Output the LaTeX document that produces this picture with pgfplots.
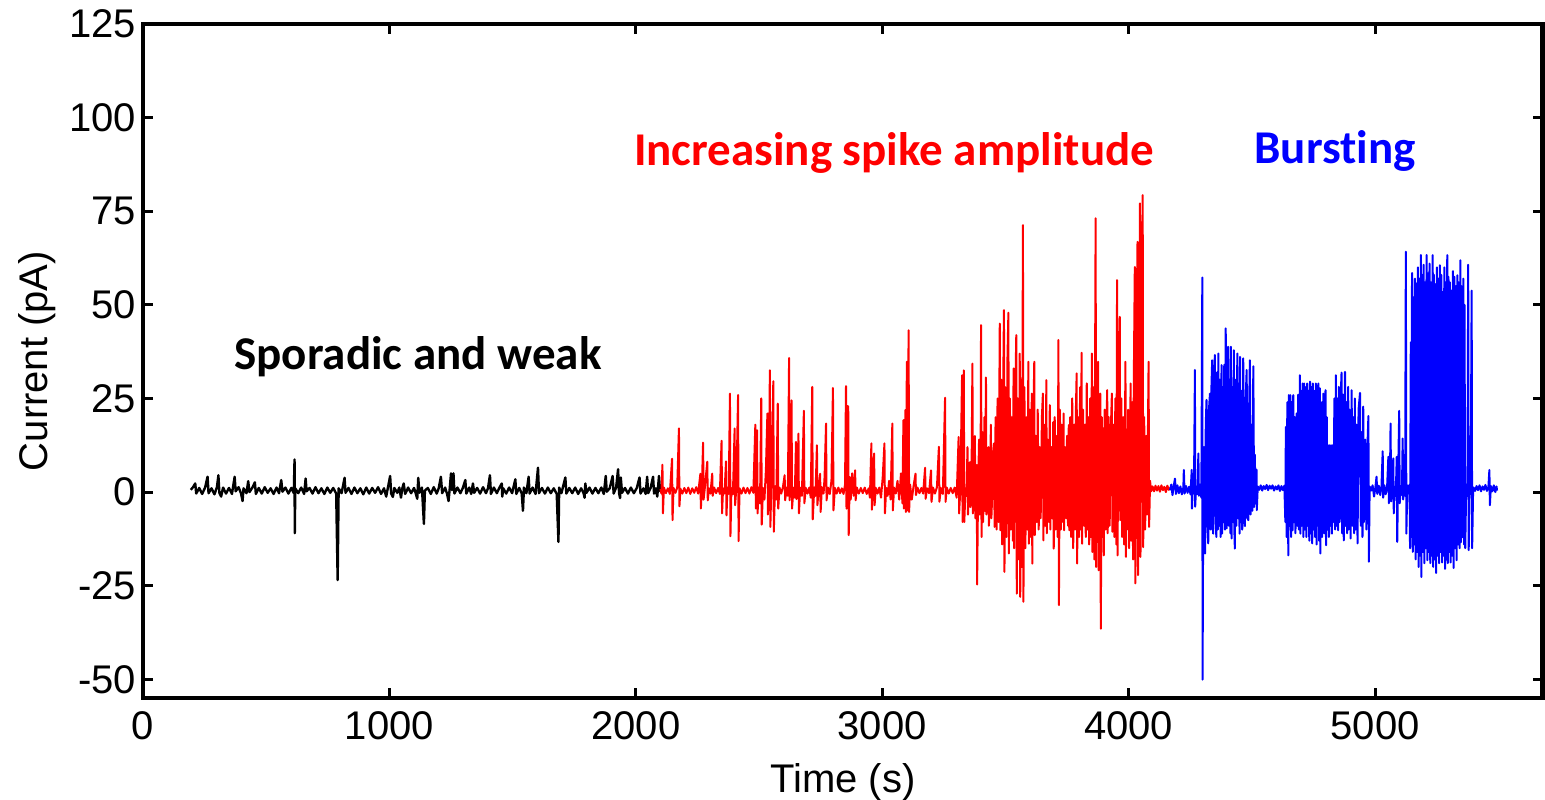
\documentclass[border=0pt]{standalone}
\usepackage{pgfplots}
\pgfplotsset{compat=1.18}
\usepackage{fontspec}
\setmainfont{Liberation Sans}
\newfontfamily\carlito[Ligatures=NoCommon]{Carlito}
\begin{document}
\begin{tikzpicture}
\begin{axis}[
 scale only axis, width=699.8pt, height=337pt,
 xmin=0, xmax=5680, ymin=-55, ymax=125,
 xtick={0,1000,2000,3000,4000,5000}, ytick={-50,-25,0,25,50,75,100,125},
 scaled x ticks=false, scaled y ticks=false,
 /pgf/number format/set thousands separator={},
 /pgf/number format/assume math mode=true,
 tick label style={font=\fontsize{20}{24}\selectfont},
 x tick label style={yshift=-3pt},
 label style={font=\fontsize{20}{24}\selectfont},
 xlabel={Time (s)}, ylabel={Current (pA)},
 xlabel style={yshift=-5pt},
 axis line style={line width=2.4pt},
 major tick length=5pt,
 every tick/.style={black, line width=1.5pt},
 tick align=inside,
 no marks,
 every axis plot/.append style={line width=1.0pt, line join=round},
]
\addplot[black, line width=1.2pt] coordinates {
(194,0.6)(203,1.3)(212,2.3)(216,-0.4)(228,1.1)(240,-0.5)(252,1.2)(262,4.1)(266,-0.3)(278,1.0)(290,-0.6)(300,1.3)(306,4.5)(310,-0.2)(317,-1.2)(325,1.2)(337,-0.4)(349,1.1)(361,-0.5)(372,4.1)(376,0.2)(388,1.3)(398,-0.4)(404,-2.4)(408,1.0)(420,-0.3)(427,2.9)(432,0.0)(444,1.2)(454,2.6)(458,-0.5)(470,1.1)(482,-0.4)(494,1.3)(506,-0.2)(518,1.0)(530,-0.5)(542,1.2)(552,-0.3)(561,3.2)(566,0.1)(578,1.2)(590,-0.4)(602,1.1)(612,-0.3)(615,8.7)(616,-11.0)(618,1.0)(630,-0.3)(642,1.2)(654,-0.5)(660,3.6)(664,0.2)(676,1.1)(688,-0.4)(700,1.3)(712,-0.3)(724,1.0)(736,-0.5)(748,1.2)(760,-0.2)(772,1.1)(784,-0.4)(790,-23.5)(794,1.0)(806,-0.3)(818,3.8)(822,-0.2)(834,1.1)(846,-0.5)(858,1.2)(870,-0.3)(882,1.0)(894,-0.6)(906,1.2)(918,-0.4)(930,1.1)(942,-0.2)(954,1.3)(966,-0.5)(978,1.0)(987,-1.2)(994,1.2)(1003,4.3)(1007,-0.4)(1014,-1.3)(1020,1.1)(1032,-0.2)(1040,1.2)(1047,-1.5)(1052,0.9)(1058,2.3)(1064,-0.5)(1076,1.2)(1088,-0.3)(1100,1.1)(1108,-0.6)(1113,-1.8)(1117,3.8)(1122,-0.2)(1132,1.2)(1140,-8.5)(1144,0.4)(1156,1.1)(1168,-0.5)(1180,1.3)(1192,-0.4)(1200,1.0)(1209,4.1)(1214,-0.3)(1226,1.2)(1234,-0.5)(1240,-2.4)(1245,1.1)(1250,5.0)(1254,0.5)(1260,5.0)(1264,-0.4)(1276,1.2)(1288,-0.3)(1298,1.1)(1308,3.2)(1312,-0.4)(1324,1.2)(1332,-0.5)(1339,2.3)(1344,-0.2)(1356,1.1)(1368,-0.4)(1380,1.3)(1392,-0.3)(1400,1.0)(1408,4.5)(1412,-0.5)(1424,1.2)(1436,-0.3)(1446,1.1)(1456,2.3)(1458,-1.2)(1462,1.0)(1474,-0.4)(1486,1.2)(1498,-0.3)(1511,3.4)(1515,-0.5)(1527,1.1)(1537,-0.4)(1542,-5.0)(1546,1.2)(1556,-0.3)(1565,4.1)(1569,-0.4)(1581,1.2)(1593,-0.5)(1603,6.5)(1607,-0.3)(1619,1.1)(1631,-0.4)(1643,1.2)(1655,-0.3)(1667,1.0)(1679,-0.5)(1686,-13.3)(1689,1.2)(1698,-0.3)(1714,3.9)(1718,-0.4)(1730,1.1)(1742,-0.3)(1754,1.2)(1766,-0.5)(1778,1.0)(1788,-0.3)(1792,-1.5)(1795,2.3)(1800,-0.2)(1812,1.2)(1824,-0.4)(1836,1.1)(1848,-0.3)(1860,1.2)(1870,-0.5)(1878,4.3)(1882,0.1)(1894,1.0)(1906,4.3)(1910,-0.4)(1920,1.2)(1928,6.1)(1932,-0.3)(1936,-1.6)(1939,3.9)(1944,-0.2)(1956,1.1)(1968,-0.4)(1980,1.2)(1992,-0.3)(2004,1.1)(2015,3.9)(2019,-0.4)(2031,1.0)(2040,-0.5)(2046,4.1)(2050,-0.3)(2060,1.1)(2070,4.1)(2074,-0.4)(2081,1.0)(2087,-1.2)(2094,4.3)(2098,0.3)(2105,0.8)
};
\addplot[red] coordinates {
(2100,0.8)(2104,-0.4)(2108,7.3)(2110,-5.7)(2114,1.2)(2122,-0.3)(2130,1.0)(2138,-0.5)(2147,8.9)(2149,-7.5)(2153,1.1)(2161,-0.2)(2168,1.2)(2175,17.0)(2177,-3.8)(2181,0.9)(2189,-0.4)(2197,1.1)(2205,-0.3)(2213,1.2)(2221,-0.5)(2229,1.0)(2237,-0.2)(2245,1.3)(2253,-0.4)(2262,4.9)(2264,-4.4)(2268,1.0)(2273,13.2)(2275,-2)(2280,1.1)(2290,8.1)(2292,-2.2)(2297,1.0)(2303,-0.4)(2310,4.9)(2312,-1)(2318,1.2)(2326,-0.3)(2334,1.1)(2341,-0.5)(2348,13.7)(2350,-5.7)(2354,1.0)(2360,-0.4)(2366,8.2)(2368,-6.2)(2372,1.2)(2377,-0.5)(2382,26.3)(2384,-11.8)(2388,1.1)(2394,-0.6)(2401,17.0)(2403,-3.5)(2408,1.2)(2415,25.9)(2417,-13.1)(2421,1.0)(2429,-0.4)(2437,1.2)(2445,-0.3)(2453,1.1)(2461,-0.4)(2469,1.3)(2477,-0.2)(2485,18.0)(2487,-4.4)(2492,16.5)(2494,-5.7)(2499,1.2)(2504,-3)(2509,25.0)(2511,-8.7)(2516,1.1)(2522,-2)(2528,6)(2534,21.0)(2536,-6)(2540,3)(2544,32.5)(2546,-9.3)(2551,5)(2558,29.6)(2560,-10.6)(2565,1.5)(2570,-2)(2576,23.6)(2578,-4.4)(2583,1.2)(2590,-0.4)(2597,1.3)(2604,4.5)(2606,-2.2)(2612,1.2)(2617,-1)(2622,35.8)(2624,-2.2)(2628,4)(2632,24.5)(2634,-4.4)(2640,1.2)(2645,-1.5)(2650,13.4)(2652,-1.9)(2656,2)(2660,15.6)(2662,-5.7)(2667,1.2)(2674,-1)(2682,21.7)(2684,-3.0)(2690,1.1)(2697,-0.4)(2704,1.2)(2710,-1.5)(2716,28.1)(2718,-7.3)(2724,1.2)(2729,-1)(2735,12.5)(2737,-3.5)(2742,1.1)(2748,4.9)(2750,-5.3)(2755,1.3)(2762,-0.4)(2766,4)(2772,18.3)(2774,-2.2)(2780,1.2)(2787,-0.5)(2794,3)(2800,27.8)(2802,-4.9)(2808,1.1)(2815,-0.4)(2822,1.2)(2829,-0.3)(2836,1.0)(2843,-0.5)(2849,2)(2853,28.3)(2855,-4.4)(2859,23)(2862,22.8)(2864,-11.5)(2868,4)(2872,-2)(2878,5)(2884,-1)(2890,5.8)(2892,-2.2)(2897,1.2)(2905,-0.4)(2913,1.1)(2921,-0.3)(2929,1.2)(2937,-0.5)(2945,1.0)(2950,-1.5)(2956,13.0)(2958,-4.7)(2962,1.5)(2967,10.3)(2969,-3.5)(2974,1.1)(2981,-0.4)(2988,1.2)(2995,-1.5)(3002,4)(3009,13.0)(3011,-5.7)(3016,1.1)(3022,-1)(3028,3)(3034,-2)(3041,18.3)(3043,-4.9)(3048,1.2)(3055,-0.4)(3062,3)(3069,-2)(3076,5)(3082,-3)(3086,19.2)(3088,-4.4)(3091,10)(3094,21.9)(3096,-5.3)(3098,15)(3100,34.8)(3102,-4.9)(3105,20)(3107,43.2)(3109,-5.3)(3113,2)(3120,-2)(3127,1.5)(3135,4.9)(3137,-0.8)(3143,1.2)(3151,-0.3)(3159,1.1)(3166,-0.4)(3174,6.5)(3176,-1.8)(3182,1.0)(3190,-0.3)(3198,5.8)(3200,-2.6)(3206,1.2)(3214,-0.4)(3222,1.3)(3230,12.1)(3232,-2.6)(3238,1.1)(3246,-0.5)(3255,25.2)(3257,-2.6)(3262,1.2)(3270,-0.4)(3278,1.1)(3286,-0.3)(3294,1.2)(3302,-1.5)(3310,14.7)(3312,-5.7)(3317,1)(3324,31.2)(3326,-8.0)(3331,32.5)(3333,-8.0)(3338,1)
(3342,-1)(3346,12)(3348,-6)(3352,1)(3356,8)(3358,-4)(3362,1)(3366,34.3)(3368,-5.7)(3372,1)(3376,15)(3378,-7)(3382,1)(3384,7.2)(3385,-24.7)(3389,1)(3393,14)(3395,-6)(3399,1)(3401,44.6)(3403,-12.0)(3407,16)(3409,-8)(3413,1)(3415,20)(3417,-5)(3421,30.6)(3423,-6)(3427,1)(3431,12)(3433,-9)(3437,1)(3441,18)(3443,-7)(3447,1)(3450,10)(3454,13.0)(3456,-9.3)(3460,20)(3464,-10)(3468,25)(3472,-8)(3477,45.0)(3479,-10.2)(3483,30)(3487,-14)(3490,22)(3494,48.6)(3496,-21.3)(3500,28)(3504,-12)(3508,35)(3512,47.9)(3514,-16.4)(3518,25)(3522,-10)(3526,20)(3530,-13)(3533,33.0)(3535,-15)(3539,22)(3544,41.9)(3546,-27.1)(3550,25)(3554,-18)(3558,37.0)(3560,-28.0)(3564,30)(3567,-20)(3571,71.3)(3573,-29.3)(3577,28)(3581,-15)(3585,20)(3589,-10)(3593,34.8)(3595,-13.8)(3599,22)(3603,-12)(3607,26.3)(3609,-19.1)(3613,18)(3617,34.8)(3619,-11.5)(3623,15)(3627,-8)(3631,22)(3635,-10)(3639,12)(3643,-7)(3648,20)(3652,26.3)(3654,-12.9)(3658,18)(3662,-9)(3666,29.9)(3668,-11)(3672,14)(3676,-8)(3680,23.2)(3682,-10)(3686,12)(3690,-7)(3694,18.7)(3696,-15.1)(3700,20)(3704,-10)(3708,15)(3712,-12)(3715,40.6)(3717,-30.2)(3721,22)(3725,-10)(3729,18)(3733,-8)(3736,21.0)(3738,-10.2)(3742,12)(3746,-7)(3750,15)(3754,-9)(3757,17.9)(3759,-10.2)(3763,20)(3767,-12)(3771,25)(3775,-15)(3779,18)(3783,-10)(3786,22)(3789,31.7)(3791,-19.1)(3795,20)(3799,-12)(3803,28)(3806,-10)(3809,37.2)(3811,-13.8)(3815,22)(3819,-9)(3823,18)(3826,-12)(3830,29.0)(3832,-10)(3836,20)(3840,-14)(3844,25)(3847,-12)(3851,37.0)(3853,-16.0)(3857,28)(3861,-18)(3866,73.1)(3868,-20.0)(3872,30)(3876,34.8)(3878,-20.9)(3881,22)(3885,26.3)(3887,-36.5)(3891,20)(3894,-12)(3897,17.0)(3899,-16.9)(3903,22)(3907,-10)(3910,18)(3913,27.2)(3915,-11)(3919,20)(3923,-9)(3927,15)(3932,26.3)(3934,-10.6)(3938,18)(3942,-12)(3946,25)(3950,-14)(3953,56.6)(3955,-16.9)(3959,30)(3964,46.8)(3966,-7.5)(3970,25)(3974,-12)(3978,20)(3982,-14)(3987,34.8)(3989,-17.3)(3992,14.7)(3994,-10)(3998,22)(4002,-15)(4008,29.0)(4010,-13)(4014,24)(4018,-18)(4021,30)(4025,60.1)(4027,-24.4)(4031,35)(4036,66.8)(4038,-22.2)(4042,30)(4046,77.1)(4048,-17.3)(4052,35)(4057,79.3)(4059,-14.7)(4063,20)(4067,-10)(4071,15)(4075,-6)(4081,34.8)(4083,-9.3)(4087,3)(4091,0.2)
(4097,1.5)(4103,0.2)(4109,1.7)(4115,0.4)(4121,1.6)(4127,0.1)(4133,1.8)(4139,0.5)(4145,1.4)(4151,0.0)(4157,1.7)(4163,0.6)(4168,1.2)
};
\addplot[blue] coordinates {
(4168,0.5)(4173,2.0)(4178,-0.8)(4183,1.6)(4188,3.6)(4192,-0.5)(4198,1.8)(4204,-0.3)(4210,1.5)(4216,-0.6)(4222,1.2)(4224,5.9)(4227,-0.4)(4233,1.6)(4239,-0.2)(4245,1.4)(4251,-0.6)(4256,5.9)(4257,-4.4)(4260,1.2)(4265,-0.4)(4269,32.6)(4270,-3.9)(4274,1.5)(4279,-0.5)(4283,10.3)(4285,-1.0)(4290,2.0)(4295,-1.5)
(4299,57.3)(4300,-50.1)(4303,3.0)
(4306,12)(4310,-16.4)(4313,18)(4316,24.6)(4319,-8)(4323,-13.7)(4326,22)(4330,26.3)(4333,-10)(4336,28)(4339,35.2)(4341,-9)(4343,-11.1)(4346,30)(4350,36.6)(4353,-8)(4356,-12)(4359,32)(4362,-10)(4364,37.0)(4367,-9)(4370,30)(4373,-12)(4377,33.9)(4379,-11.1)(4382,28)(4385,-8)(4388,34)(4391,-10)(4394,43.7)(4396,-7)(4398,-9.7)(4401,32)(4404,38.8)(4407,-9)(4410,30)(4413,-11)(4415,38.8)(4418,-12.4)(4421,28)(4424,-8)(4427,37.9)(4429,-10)(4431,-15.1)(4434,30)(4437,-9)(4441,37.0)(4444,-7)(4447,29)(4450,-11.1)(4452,36.1)(4455,-8)(4458,27)(4461,-10)(4465,35.7)(4468,-6)(4472,-9.1)(4475,25)(4479,32.6)(4482,-7)(4486,-7.5)(4489,22)(4492,35.2)(4495,-6)(4499,18)(4502,-5)(4506,33.6)(4509,-4)(4512,10)(4515,-3)(4519,6.0)(4520,-4.8)(4524,1.5)
(4530,0.6)(4536,1.8)(4542,0.4)(4548,1.6)(4554,0.8)(4560,1.9)(4566,0.5)(4572,1.7)(4578,0.9)(4584,1.8)(4590,0.4)(4596,1.5)(4602,0.7)(4608,1.8)(4614,0.3)(4620,1.6)(4626,0.5)(4632,1.7)
(4636,-8)(4638,17.4)(4641,-12)(4644,24)(4648,-16.9)(4650,25.9)(4653,-9)(4656,25.9)(4659,-12)(4662,24)(4665,-10.2)(4668,25.9)(4671,-8)(4674,20)(4677,-11)(4680,18)(4682,21.0)(4685,-9)(4688,26)(4691,-10)(4695,31.2)(4697,-11.1)(4700,27)(4703,-9)(4706,29)(4709,-12)(4712,29.0)(4715,-10)(4718,28)(4721,-12.0)(4724,29.0)(4727,-9)(4730,27)(4733,-13)(4736,29.5)(4739,-11)(4742,28)(4745,-13.7)(4748,29.0)(4751,-10)(4754,27)(4757,-12)(4760,29)(4763,-14)(4766,26)(4770,29.0)(4773,-13)(4776,27.7)(4778,-16.4)(4781,24)(4785,-12)(4790,26.3)(4793,-11)(4796,22)(4799,27.2)(4801,-14.2)(4804,20)(4807,-10)(4810,12.5)(4813,-12)(4816,12.5)(4819,-9)(4822,12.5)(4825,-11.1)(4828,12.5)(4831,-8)(4835,25)(4838,-10)(4841,31.2)(4844,-9)(4847,25)(4850,-10.2)(4853,28.1)(4856,-8)(4860,24)(4864,31.9)(4866,-11)(4870,26)(4873,-12.9)(4878,32.1)(4880,-9)(4884,24)(4887,-11)(4891,28.1)(4893,-10)(4897,22)(4901,-12.4)(4905,27.2)(4908,-9)(4912,20)(4915,-11)(4918,25.0)(4921,-10)(4925,18)(4929,-13.7)(4933,22)(4939,26.5)(4942,-9)(4946,16)(4949,-12)(4952,22.8)(4955,-8)(4960,14)(4965,-10)(4969,12)(4973,20.3)(4975,-18.6)(4978,1.5)
(4984,0.4)(4990,1.8)(4996,-1.2)(5002,1.6)(5006,4.1)(5009,-0.5)(5015,1.7)(5021,-0.8)(5026,1.4)(5031,10.9)(5033,-1.5)(5038,1.8)(5043,-0.6)(5049,1.5)(5054,9.4)(5056,-3.0)(5060,1.2)(5063,18.3)(5065,-2.5)(5070,1.6)(5074,9.0)(5076,-5.7)(5080,1.4)(5084,-1.0)(5088,9.4)(5090,-13.3)(5093,1.5)(5098,21.7)(5100,-3.0)(5105,1.6)(5109,-0.8)(5112,14.3)(5114,-2.0)(5118,1.5)(5122,-1.0)(5125,64.2)(5127,-11.1)(5131,1.8)(5136,-0.4)(5140,2.0)
(5142,-15.0)(5145,40)(5148,-12)(5150,58.5)(5153,-16)(5156,52)(5159,-14)(5162,57)(5165,-18)(5168,55.7)(5171,-16)(5174,60.0)(5177,-20)(5180,57)(5183,-17)(5186,63.3)(5188,-22.7)(5191,58)(5194,-16)(5197,60.7)(5200,-19)(5203,56)(5206,-15)(5209,63.3)(5212,-18.2)(5215,58.4)(5218,-16)(5221,61)(5224,-19)(5227,56)(5230,-17)(5234,63.3)(5236,-20.0)(5239,58)(5242,-18)(5245,55.5)(5248,-21.6)(5251,60)(5254,-17)(5257,57)(5260,-19)(5263,60.6)(5266,-16)(5269,58)(5272,-18.8)(5275,53.4)(5278,-17)(5281,60)(5284,-20.5)(5287,56)(5290,-18)(5293,63.3)(5295,-19)(5298,57.5)(5301,-16)(5304,56)(5307,-18.8)(5310,53.8)(5313,-17)(5316,59)(5319,-20.3)(5322,57.5)(5325,-15)(5328,55)(5331,-18.2)(5334,57.9)(5337,-14)(5340,56)(5343,-15)(5346,61.9)(5348,-13.4)(5351,55)(5354,-12)(5358,57)(5361,-14)(5363,50)(5366,-15)(5370,2)(5375,-1)(5378,60.7)(5380,-15.5)(5384,1.5)(5388,-0.5)(5392,53.8)(5394,-15.0)(5398,1.0)
(5400,1.2)(5406,0.3)(5412,1.6)(5418,0.5)(5424,1.8)(5430,0.2)(5436,1.5)(5442,0.6)(5448,1.9)(5454,0.3)(5460,1.4)(5464,5.9)(5466,-3.5)(5470,1.6)(5476,0.2)(5482,1.8)(5488,0.0)(5493,1.5)(5495,0.4)
};
\node[font=\carlito\bfseries\fontsize{23.5}{28}\selectfont, text=black] at (axis cs:1116,36.1) {Sporadic and weak};
\node[font=\carlito\bfseries\fontsize{23.5}{28}\selectfont, text=red] at (axis cs:3048,90.5) {Increasing spike amplitude};
\node[font=\carlito\bfseries\fontsize{23.5}{28}\selectfont, text=blue] at (axis cs:4838,91.2) {Bursting};
\end{axis}
\pgfresetboundingbox
\path[use as bounding box] (current axis.south west) ++(-71.5pt,-50.5pt) rectangle ++(772.5pt,399.5pt);
\end{tikzpicture}
\end{document}
